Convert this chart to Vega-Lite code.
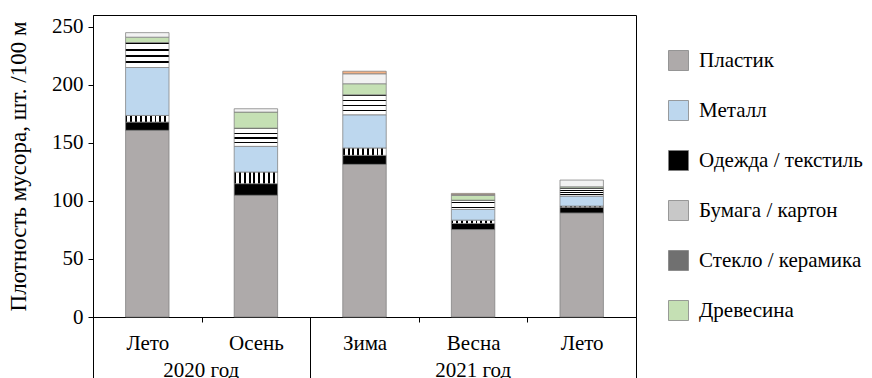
{
  "$schema": "https://vega.github.io/schema/vega-lite/v6.json",
  "width": 543,
  "height": 302,
  "autosize": {"type": "none"},
  "padding": {"left": 93, "top": 15, "right": 236, "bottom": 61},
  "background": "white",
  "config": {
    "view": {"stroke": "black", "strokeWidth": 1},
    "font": "Liberation Serif, DejaVu Serif, serif",
    "axis": {"labelFont": "Liberation Serif, DejaVu Serif, serif", "titleFont": "Liberation Serif, DejaVu Serif, serif", "labelColor": "black", "titleColor": "black", "domainColor": "black", "tickColor": "black", "labelFontSize": 21, "titleFontSize": 23, "titleFontWeight": "normal", "grid": false}
  },
  "data": {"values": [
    {"period": "Лето 2020", "type": "Пластик", "value": 160.7},
    {"period": "Лето 2020", "type": "Одежда / текстиль", "value": 7.1},
    {"period": "Лето 2020", "type": "Стекло / керамика", "value": 5.7},
    {"period": "Лето 2020", "type": "Металл", "value": 41.3},
    {"period": "Лето 2020", "type": "Бумага / картон", "value": 21.5},
    {"period": "Лето 2020", "type": "Древесина", "value": 4.6},
    {"period": "Лето 2020", "type": "Прочее", "value": 3.9},
    {"period": "Осень 2020", "type": "Пластик", "value": 104.8},
    {"period": "Осень 2020", "type": "Одежда / текстиль", "value": 10.0},
    {"period": "Осень 2020", "type": "Стекло / керамика", "value": 10.0},
    {"period": "Осень 2020", "type": "Металл", "value": 22.1},
    {"period": "Осень 2020", "type": "Бумага / картон", "value": 15.7},
    {"period": "Осень 2020", "type": "Древесина", "value": 13.8},
    {"period": "Осень 2020", "type": "Прочее", "value": 2.9},
    {"period": "Зима 2021", "type": "Пластик", "value": 131.4},
    {"period": "Зима 2021", "type": "Одежда / текстиль", "value": 7.8},
    {"period": "Зима 2021", "type": "Стекло / керамика", "value": 6.3},
    {"period": "Зима 2021", "type": "Металл", "value": 28.6},
    {"period": "Зима 2021", "type": "Бумага / картон", "value": 17.2},
    {"period": "Зима 2021", "type": "Древесина", "value": 9.5},
    {"period": "Зима 2021", "type": "Прочее", "value": 8.6},
    {"period": "Зима 2021", "type": "Другое", "value": 2.2},
    {"period": "Весна 2021", "type": "Пластик", "value": 75.3},
    {"period": "Весна 2021", "type": "Одежда / текстиль", "value": 5.2},
    {"period": "Весна 2021", "type": "Стекло / керамика", "value": 2.9},
    {"period": "Весна 2021", "type": "Металл", "value": 9.2},
    {"period": "Весна 2021", "type": "Бумага / картон", "value": 8.0},
    {"period": "Весна 2021", "type": "Древесина", "value": 4.0},
    {"period": "Весна 2021", "type": "Прочее", "value": 0.8},
    {"period": "Весна 2021", "type": "Другое", "value": 1.0},
    {"period": "Лето 2021", "type": "Пластик", "value": 89.6},
    {"period": "Лето 2021", "type": "Одежда / текстиль", "value": 4.9},
    {"period": "Лето 2021", "type": "Стекло / керамика", "value": 1.0},
    {"period": "Лето 2021", "type": "Металл", "value": 8.6},
    {"period": "Лето 2021", "type": "Бумага / картон", "value": 6.9},
    {"period": "Лето 2021", "type": "Древесина", "value": 1.1},
    {"period": "Лето 2021", "type": "Прочее", "value": 5.8}
  ]},
  "layer": [
    {
      "transform": [
        {"calculate": "indexof(['Пластик', 'Одежда / текстиль', 'Стекло / керамика', 'Металл', 'Бумага / картон', 'Древесина', 'Прочее', 'Другое'], datum.type)", "as": "stackOrder"}
      ],
      "mark": {"type": "bar", "width": {"band": 0.4}, "stroke": "#7f7f7f", "strokeWidth": 0.75},
      "encoding": {
        "x": {
          "field": "period", "type": "nominal",
          "sort": ["Лето 2020", "Осень 2020", "Зима 2021", "Весна 2021", "Лето 2021"],
          "scale": {"paddingInner": 0, "paddingOuter": 0},
          "axis": {"orient": "bottom", "title": null, "labelExpr": "datum.value ? split(datum.value, ' ')[0] : ''", "labelAngle": 0, "tickBand": "extent", "tickSize": 5, "labelPadding": 10}
        },
        "y": {
          "field": "value", "type": "quantitative", "stack": "zero",
          "scale": {"domain": [0, 260], "nice": false},
          "axis": {"title": "Плотность мусора, шт. /100 м", "values": [0, 50, 100, 150, 200, 250], "tickSize": 5, "labelPadding": 5, "titlePadding": 21}
        },
        "order": {"field": "stackOrder", "type": "quantitative", "sort": "ascending"},
        "color": {
          "field": "type", "type": "nominal",
          "condition": [
            {"test": "datum.type === 'Стекло / керамика'", "value": {"gradient": "linear", "x1": 0, "y1": 0, "x2": 1, "y2": 0, "stops": [
                {"offset": 0, "color": "black"}, {"offset": 0.044, "color": "black"}, {"offset": 0.044, "color": "white"}, {"offset": 0.111, "color": "white"},
                {"offset": 0.111, "color": "black"}, {"offset": 0.155, "color": "black"}, {"offset": 0.155, "color": "white"}, {"offset": 0.222, "color": "white"},
                {"offset": 0.222, "color": "black"}, {"offset": 0.266, "color": "black"}, {"offset": 0.266, "color": "white"}, {"offset": 0.333, "color": "white"},
                {"offset": 0.333, "color": "black"}, {"offset": 0.377, "color": "black"}, {"offset": 0.377, "color": "white"}, {"offset": 0.444, "color": "white"},
                {"offset": 0.444, "color": "black"}, {"offset": 0.488, "color": "black"}, {"offset": 0.488, "color": "white"}, {"offset": 0.556, "color": "white"},
                {"offset": 0.556, "color": "black"}, {"offset": 0.6, "color": "black"}, {"offset": 0.6, "color": "white"}, {"offset": 0.667, "color": "white"},
                {"offset": 0.667, "color": "black"}, {"offset": 0.711, "color": "black"}, {"offset": 0.711, "color": "white"}, {"offset": 0.778, "color": "white"},
                {"offset": 0.778, "color": "black"}, {"offset": 0.822, "color": "black"}, {"offset": 0.822, "color": "white"}, {"offset": 0.889, "color": "white"},
                {"offset": 0.889, "color": "black"}, {"offset": 0.933, "color": "black"}, {"offset": 0.933, "color": "white"}, {"offset": 1, "color": "white"}
              ]}},
            {"test": "datum.type === 'Бумага / картон'", "value": {"gradient": "linear", "x1": 0, "y1": 0, "x2": 0, "y2": 1, "stops": [
                {"offset": 0, "color": "black"}, {"offset": 0.07, "color": "black"}, {"offset": 0.07, "color": "white"}, {"offset": 0.25, "color": "white"},
                {"offset": 0.25, "color": "black"}, {"offset": 0.32, "color": "black"}, {"offset": 0.32, "color": "white"}, {"offset": 0.5, "color": "white"},
                {"offset": 0.5, "color": "black"}, {"offset": 0.57, "color": "black"}, {"offset": 0.57, "color": "white"}, {"offset": 0.75, "color": "white"},
                {"offset": 0.75, "color": "black"}, {"offset": 0.82, "color": "black"}, {"offset": 0.82, "color": "white"}, {"offset": 1, "color": "white"}
              ]}}
          ],
          "scale": {
            "domain": ["Пластик", "Одежда / текстиль", "Стекло / керамика", "Металл", "Бумага / картон", "Древесина", "Прочее", "Другое"],
            "range": ["#aeaaaa", "#000000", "#707070", "#bdd7ee", "#c8c8c8", "#c5e0b4", "#f2f2f2", "#f4b183"]
          },
          "legend": {
            "title": null, "orient": "none", "legendX": 575, "legendY": 35, "padding": 0,
            "values": ["Пластик", "Металл", "Одежда / текстиль", "Бумага / картон", "Стекло / керамика", "Древесина"],
            "symbolType": "square", "symbolSize": 400, "symbolStrokeColor": "#7f7f7f", "symbolStrokeWidth": 0.75,
            "labelFont": "Liberation Serif, DejaVu Serif, serif", "labelFontSize": 21, "labelColor": "black", "labelOffset": 10, "rowPadding": 27, "labelLimit": 300
          }
        }
      }
    },
    {
      "mark": {"type": "rule", "strokeOpacity": 0},
      "encoding": {
        "x": {
          "field": "period", "type": "nominal",
          "sort": ["Лето 2020", "Осень 2020", "Зима 2021", "Весна 2021", "Лето 2021"],
          "axis": {"orient": "bottom", "title": null, "domain": false, "ticks": false, "labelAngle": 0, "labelPadding": 42,
            "labelExpr": "datum.value === 'Лето 2020' ? '2020 год' : (datum.value === 'Весна 2021' ? '2021 год' : '')",
            "labelOffset": {"condition": {"test": "datum.value === 'Лето 2020'", "value": 54}, "value": 0}}
        }
      }
    },
    {
      "mark": {"type": "rule", "strokeOpacity": 0},
      "encoding": {
        "x": {
          "field": "period", "type": "nominal",
          "sort": ["Лето 2020", "Осень 2020", "Зима 2021", "Весна 2021", "Лето 2021"],
          "axis": {"orient": "bottom", "title": null, "domain": false, "labels": false, "tickBand": "extent", "tickSize": 61,
            "tickOpacity": {"condition": {"test": "indexof(['Лето 2020', 'Зима 2021', 'Весна 2021'], datum.value) >= 0", "value": 0}, "value": 1}}
        }
      }
    }
  ],
  "resolve": {"axis": {"x": "independent"}}
}
